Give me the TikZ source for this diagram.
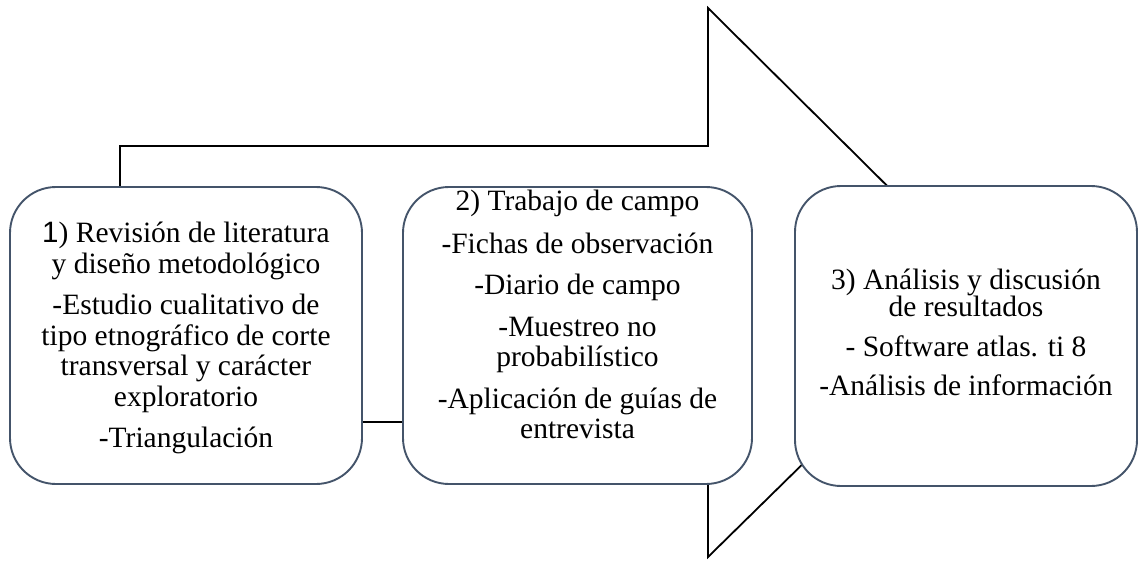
\documentclass[tikz,border=0pt]{standalone}
\usepackage{fontspec}
\setmainfont{Liberation Serif}
\newfontfamily\onefont{Liberation Sans}
\usetikzlibrary{positioning}
\definecolor{boxline}{HTML}{44546A}
\tikzset{
  stagebox/.style={draw=boxline, line width=1.9pt, fill=white, rounded corners=46pt, inner sep=0pt},
  stagetext/.style={align=center, inner sep=0pt, font=\fontsize{29.5}{30.5}\selectfont},
  bigarrow/.style={draw=black, line width=1.8pt, fill=white, line join=miter}
}

\begin{document}
\begin{tikzpicture}[x=1pt,y=-1pt]
\useasboundingbox (0,0) rectangle (1138,560);
\newcommand{\shafttop}{146}
\newcommand{\shaftbot}{422}
\newcommand{\headx}{708}

% the big arrow behind the three stages
\draw [bigarrow] (120,\shafttop) -- (\headx,\shafttop) -- (\headx,8) -- (986,284)
  -- (\headx,557) -- (\headx,\shaftbot) -- (120,\shaftbot) -- cycle;

% stages
\node [stagebox, minimum width=352pt, minimum height=297pt] (box1) at (186,335.5) {};
\node [stagebox, minimum width=349pt, minimum height=297pt] (box2) at (577.5,335.5) {};
\node [stagebox, minimum width=342pt, minimum height=300pt] (box3) at (966,336) {};

\node [stagetext] (text1) at ([yshift=-2.5pt]box1.center) {{\onefont 1}) Revisión de literatura\\
  y diseño metodológico\\[11pt]
  -Estudio cualitativo de\\
  tipo etnográfico de corte\\
  transversal y carácter\\
  exploratorio\\[11pt]
  -Triangulación};
\node [stagetext] (text2) at ([yshift=21pt]box2.center) {2) Trabajo de campo\\[12pt]
  -Fichas de observación\\[11pt]
  -Diario de campo\\[11pt]
  -Muestreo no\\
  probabilístico\\[11pt]
  -Aplicación de guías de\\
  entrevista};
\node [stagetext] (text3) at ([yshift=3.5pt]box3.center) {3) Análisis y discusión\\[-3.5pt]
  de resultados\\[9pt]
  - Software atlas. ti 8\\[9pt]
  -Análisis de información};
\end{tikzpicture}
\end{document}
